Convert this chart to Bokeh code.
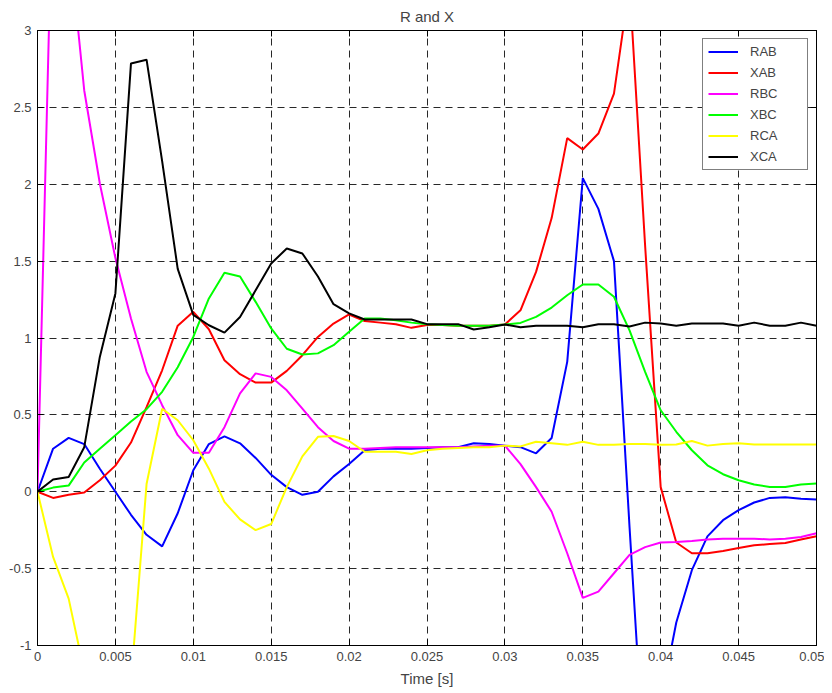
from bokeh.plotting import figure
from bokeh.models import FixedTicker, LinearAxis, Legend, LegendItem, Range1d
from bokeh.embed import file_html
from bokeh.resources import INLINE

# ---------------- data ----------------
time_s = [0.000, 0.001, 0.002, 0.003, 0.004, 0.005, 0.006, 0.007, 0.008, 0.009,
          0.010, 0.011, 0.012, 0.013, 0.014, 0.015, 0.016, 0.017, 0.018, 0.019,
          0.020, 0.021, 0.022, 0.023, 0.024, 0.025, 0.026, 0.027, 0.028, 0.029,
          0.030, 0.031, 0.032, 0.033, 0.034, 0.035, 0.036, 0.037, 0.038, 0.039,
          0.040, 0.041, 0.042, 0.043, 0.044, 0.045, 0.046, 0.047, 0.048, 0.049,
          0.050]

RAB = [0.0, 0.28, 0.35, 0.31, 0.15, 0.0, -0.15, -0.28, -0.355, -0.14,
       0.14, 0.31, 0.36, 0.315, 0.22, 0.11, 0.03, -0.02, 0.0, 0.10,
       0.18, 0.27, 0.28, 0.28, 0.28, 0.285, 0.29, 0.29, 0.315, 0.31,
       0.30, 0.29, 0.25, 0.35, 0.845, 2.04, 1.84, 1.50, -0.23, -1.87,
       -1.37, -0.85, -0.51, -0.29, -0.185, -0.12, -0.07, -0.04, -0.035, -0.045,
       -0.05]

XAB = [0.0, -0.04, -0.02, -0.005, 0.075, 0.17, 0.32, 0.55, 0.79, 1.08,
       1.17, 1.057, 0.855, 0.765, 0.71, 0.71, 0.786, 0.888, 1.007, 1.094,
       1.153, 1.11, 1.10, 1.09, 1.066, 1.085, 1.085, 1.08, 1.08, 1.08,
       1.088, 1.18, 1.43, 1.78, 2.30, 2.226, 2.33, 2.59, 3.3, 1.6,
       0.03, -0.33, -0.40, -0.40, -0.385, -0.366, -0.348, -0.34, -0.333, -0.31,
       -0.29]

RBC = [0.0, 4.1, 3.62, 2.61, 2.005, 1.52, 1.127, 0.78, 0.563, 0.368,
       0.253, 0.253, 0.42, 0.64, 0.77, 0.747, 0.66, 0.54, 0.42, 0.33,
       0.28, 0.28, 0.285, 0.29, 0.29, 0.29, 0.29, 0.29, 0.295, 0.30,
       0.30, 0.18, 0.03, -0.13, -0.40, -0.69, -0.65, -0.53, -0.41, -0.36,
       -0.33, -0.327, -0.32, -0.31, -0.305, -0.305, -0.305, -0.31, -0.305, -0.294,
       -0.27]

XBC = [0.0, 0.027, 0.04, 0.19, 0.28, 0.368, 0.457, 0.537, 0.65, 0.81,
       1.007, 1.257, 1.424, 1.40, 1.235, 1.062, 0.93, 0.893, 0.90, 0.953,
       1.04, 1.127, 1.127, 1.116, 1.10, 1.09, 1.085, 1.08, 1.08, 1.08,
       1.088, 1.098, 1.137, 1.198, 1.278, 1.348, 1.348, 1.268, 1.05, 0.78,
       0.53, 0.39, 0.27, 0.172, 0.114, 0.075, 0.047, 0.031, 0.031, 0.047,
       0.053]

RCA = [0.0, -0.424, -0.695, -1.17, -1.6, -1.7, -1.24, 0.05, 0.54, 0.465,
       0.335, 0.15, -0.066, -0.18, -0.25, -0.21, 0.03, 0.23, 0.357, 0.363,
       0.33, 0.26, 0.26, 0.26, 0.245, 0.27, 0.28, 0.285, 0.29, 0.29,
       0.30, 0.295, 0.325, 0.315, 0.305, 0.325, 0.305, 0.305, 0.31, 0.31,
       0.305, 0.307, 0.33, 0.30, 0.31, 0.315, 0.308, 0.307, 0.307, 0.307,
       0.307]

XCA = [0.0, 0.08, 0.096, 0.29, 0.877, 1.29, 2.786, 2.81, 2.15, 1.45,
       1.15, 1.083, 1.035, 1.137, 1.31, 1.485, 1.582, 1.55, 1.40, 1.22,
       1.16, 1.12, 1.12, 1.12, 1.12, 1.09, 1.09, 1.09, 1.055, 1.07,
       1.088, 1.07, 1.08, 1.08, 1.08, 1.07, 1.09, 1.09, 1.075, 1.10,
       1.094, 1.08, 1.094, 1.094, 1.094, 1.08, 1.10, 1.08, 1.08, 1.10,
       1.08]

series_names = ["RAB", "XAB", "RBC", "XBC", "RCA", "XCA"]
series_values = [RAB, XAB, RBC, XBC, RCA, XCA]
series_colors = ["#0000ff", "#ff0000", "#ff00ff", "#00ff00", "#ffff00", "#000000"]

x_ticks = [0.0, 0.005, 0.01, 0.015, 0.02, 0.025, 0.03, 0.035, 0.04, 0.045, 0.05]
x_tick_labels = ["0", "0.005", "0.01", "0.015", "0.02", "0.025", "0.03",
                 "0.035", "0.04", "0.045", "0.05"]
y_ticks = [-1.0, -0.5, 0.0, 0.5, 1.0, 1.5, 2.0, 2.5, 3.0]
y_tick_labels = ["-1", "-0.5", "0", "0.5", "1", "1.5", "2", "2.5", "3"]

title_text = "R and X"
x_label = "Time [s]"

FONT = "Liberation Sans"

# ---------------- figure ----------------
p = figure(width=824, height=689, output_backend="svg", toolbar_location=None,
           x_range=Range1d(0, 0.05), y_range=Range1d(-1, 3),
           min_border_left=37, min_border_right=8, min_border_top=30,
           min_border_bottom=44)

p.background_fill_color = "white"
p.border_fill_color = "white"
p.outline_line_color = "black"
p.outline_line_width = 1

p.title.text = title_text
p.title.align = "center"
p.title.vertical_align = "top"
p.title.text_font = FONT
p.title.text_font_size = "15px"
p.title.text_font_style = "normal"
p.title.standoff = 8

# extra axes for the box ticks (top / right)
top_axis = LinearAxis(major_label_text_font_size="0px", major_label_standoff=0)
right_axis = LinearAxis(major_label_text_font_size="0px", major_label_standoff=0)
p.add_layout(top_axis, "above")
p.add_layout(right_axis, "right")

xt = FixedTicker(ticks=x_ticks)
yt = FixedTicker(ticks=y_ticks)
for ax in p.xaxis:
    ax.ticker = xt
    ax.minor_tick_line_color = None
    ax.major_tick_in = 6
    ax.major_tick_out = 0
    ax.axis_line_color = "black"
for ax in p.yaxis:
    ax.ticker = yt
    ax.minor_tick_line_color = None
    ax.major_tick_in = 6
    ax.major_tick_out = 0
    ax.axis_line_color = "black"

bx = p.below[0]
bx.major_label_overrides = {t: l for t, l in zip(x_ticks, x_tick_labels)}
bx.major_label_text_font = FONT
bx.major_label_text_font_size = "13px"
bx.major_label_standoff = 6
bx.axis_label = x_label
bx.axis_label_text_font = FONT
bx.axis_label_text_font_size = "15px"
bx.axis_label_text_font_style = "normal"
bx.axis_label_standoff = 6

ly = p.left[0]
ly.major_label_overrides = {t: l for t, l in zip(y_ticks, y_tick_labels)}
ly.major_label_text_font = FONT
ly.major_label_text_font_size = "13px"
ly.major_label_standoff = 6

top_axis.major_label_overrides = {t: "" for t in x_ticks}
right_axis.major_label_overrides = {t: "" for t in y_ticks}

for g in (p.xgrid[0], p.ygrid[0]):
    g.grid_line_color = "#111111"
    g.grid_line_dash = "7 5"
    g.grid_line_width = 1
    g.grid_line_alpha = 0.9
p.xgrid[0].ticker = xt
p.ygrid[0].ticker = yt

items = []
for name, vals, col in zip(series_names, series_values, series_colors):
    r = p.line(time_s, vals, line_color=col, line_width=2)
    items.append(LegendItem(label=name, renderers=[r]))

legend = Legend(items=items, location="top_right")
legend.margin = 8
legend.padding = 5
legend.spacing = 6
legend.glyph_height = 15
legend.label_height = 15
legend.glyph_width = 30
legend.label_standoff = 12
legend.label_width = 52
legend.label_text_font = FONT
legend.label_text_font_size = "13px"
legend.border_line_color = "black"
legend.border_line_width = 1
legend.background_fill_color = "white"
legend.background_fill_alpha = 1.0
p.add_layout(legend)

open("out.html", "w").write(file_html(p, INLINE))
